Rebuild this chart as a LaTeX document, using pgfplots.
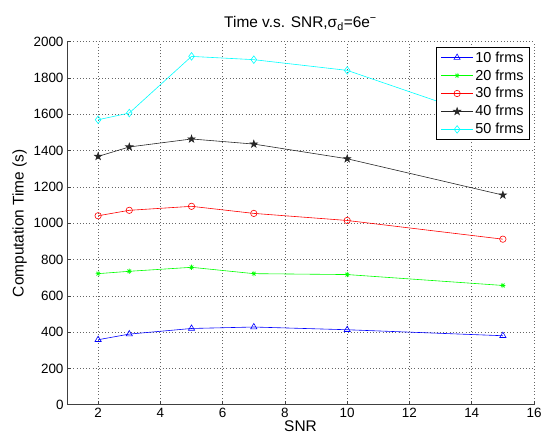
\documentclass[border=0pt]{standalone}
\usepackage{fontspec}
\setmainfont{Liberation Sans}
\usepackage{pgfplots}
\pgfplotsset{compat=1.18}
\usetikzlibrary{plotmarks}
\definecolor{mblue}{rgb}{0,0,1}
\definecolor{mgreen}{rgb}{0,1,0}
\definecolor{mred}{rgb}{1,0,0}
\definecolor{mcyan}{rgb}{0,1,1}
\definecolor{mblack}{rgb}{0.15,0.15,0.15}
\pgfdeclareplotmark{pent}{%
  \pgfpathmoveto{\pgfpointpolar{90}{\pgfplotmarksize}}%
  \pgfpathlineto{\pgfpointpolar{126}{0.382\pgfplotmarksize}}%
  \pgfpathlineto{\pgfpointpolar{162}{\pgfplotmarksize}}%
  \pgfpathlineto{\pgfpointpolar{198}{0.382\pgfplotmarksize}}%
  \pgfpathlineto{\pgfpointpolar{234}{\pgfplotmarksize}}%
  \pgfpathlineto{\pgfpointpolar{270}{0.382\pgfplotmarksize}}%
  \pgfpathlineto{\pgfpointpolar{306}{\pgfplotmarksize}}%
  \pgfpathlineto{\pgfpointpolar{342}{0.382\pgfplotmarksize}}%
  \pgfpathlineto{\pgfpointpolar{18}{\pgfplotmarksize}}%
  \pgfpathlineto{\pgfpointpolar{54}{0.382\pgfplotmarksize}}%
  \pgfpathclose
  \pgfusepathqfillstroke
}
\pgfdeclareplotmark{mstar}{%
  \pgfpathmoveto{\pgfqpoint{-\pgfplotmarksize}{0pt}}\pgfpathlineto{\pgfqpoint{\pgfplotmarksize}{0pt}}%
  \pgfpathmoveto{\pgfqpoint{0pt}{-\pgfplotmarksize}}\pgfpathlineto{\pgfqpoint{0pt}{\pgfplotmarksize}}%
  \pgfpathmoveto{\pgfpointpolar{45}{\pgfplotmarksize}}\pgfpathlineto{\pgfpointpolar{225}{\pgfplotmarksize}}%
  \pgfpathmoveto{\pgfpointpolar{135}{\pgfplotmarksize}}\pgfpathlineto{\pgfpointpolar{315}{\pgfplotmarksize}}%
  \pgfusepathqstroke
}
\begin{document}
\begin{tikzpicture}
\begin{axis}[
  width=467bp, height=363bp, scale only axis,
  xmin=1, xmax=16, ymin=0, ymax=2000,
  xtick={2,4,...,16}, ytick={0,200,...,2000},
  axis x line*=bottom, axis y line*=left,
  axis line style={black!75, line width=0.6pt, -},
  tick align=inside, major tick length=4bp,
  tick style={black!75, line width=0.5pt},
  grid=major,
  grid style={black!60, line width=0.5pt, dash pattern=on 0.8pt off 2.4pt},
  title={Time v.s. SNR,σ\textsubscript{d}=6e\textsuperscript{−}},
  title style={font=\fontsize{15.5}{16}\selectfont, yshift=2bp},
  xlabel={SNR}, ylabel={Computation Time (s)},
  label style={font=\fontsize{15.5}{16}\selectfont},
  xlabel style={yshift=4bp},
  ticklabel style={font=\fontsize{13.5}{14}\selectfont},
  /pgf/number format/assume math mode=true,
  /pgf/number format/1000 sep={},
  legend style={at={(1,1)}, anchor=north east, xshift=-4bp, yshift=-5bp,
    font=\fontsize{14.5}{15}\selectfont,
    nodes={font=\fontsize{14.5}{15}\selectfont, inner ysep=3bp},
    draw=black, line width=0.9pt,
    fill=white, inner xsep=4bp, inner ysep=1.5bp, row sep=0pt, cells={anchor=west}},
  legend image code/.code={%
    \draw[mark repeat=2, mark phase=2, line width=0.6pt]
      plot coordinates {(0bp,0bp)(16bp,0bp)(32bp,0bp)};},
  every axis plot/.append style={line width=0.6pt, mark size=3.3bp},
]
\addplot[mblue, mark=triangle, mark size=3.6bp] coordinates {(2,358)(3,389)(5,420)(7,428)(10,413)(15,380)};
\addlegendentry{10 frms}
\addplot[mgreen, mark=mstar, mark size=2.6bp] coordinates {(2,722)(3,735)(5,757)(7,722)(10,717)(15,657)};
\addlegendentry{20 frms}
\addplot[mred, mark=o, mark size=3.2bp] coordinates {(2,1041)(3,1071)(5,1093)(7,1054)(10,1015)(15,912)};
\addlegendentry{30 frms}
\addplot[mblack, mark=pent, mark size=3.8bp, mark options={fill=mblack}] coordinates {(2,1368)(3,1420)(5,1464)(7,1436)(10,1355)(15,1155)};
\addlegendentry{40 frms}
\addplot[mcyan, mark=diamond, mark size=3.8bp] coordinates {(2,1570)(3,1607)(5,1919)(7,1901)(10,1842)(15,1548)};
\addlegendentry{50 frms}
\end{axis}
\pgfresetboundingbox
\path ([xshift=-67bp,yshift=-37bp]current axis.south west) rectangle ([xshift=10bp,yshift=41.7bp]current axis.north east);
\end{tikzpicture}
\end{document}
